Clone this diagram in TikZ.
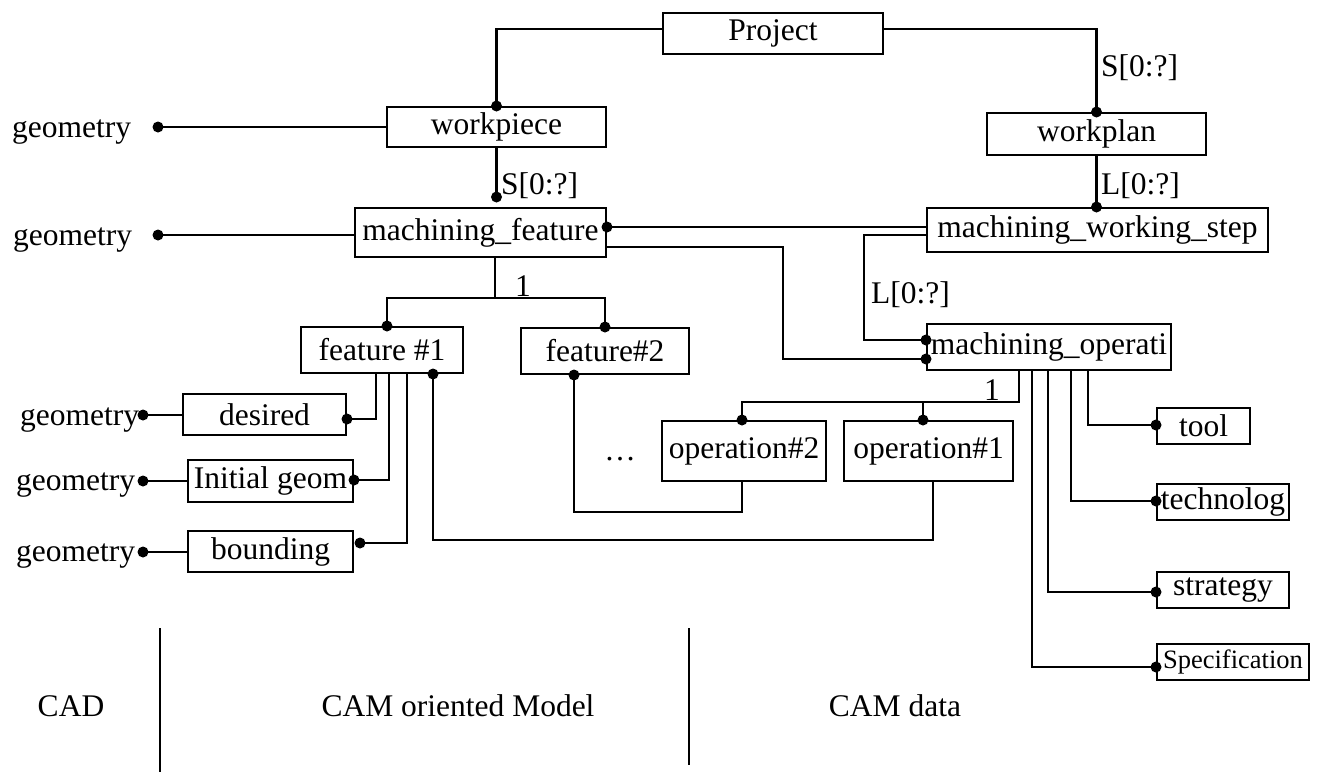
\documentclass[tikz,border=0pt]{standalone}
\usepackage{fontspec}
\setmainfont{Liberation Serif}
\newcommand\dfont{\fontsize{31.5}{36}\selectfont}
\newcommand\sfont{\fontsize{26.5}{30}\selectfont}
\begin{document}
\begin{tikzpicture}[x=1pt,y=-1pt,
  ebox/.style={draw,line width=2pt,inner sep=0pt,font=\dfont},
  conn/.style={line width=2.8pt},
  divider/.style={line width=1.4pt},
  jdot/.style={circle,fill,inner sep=0pt,minimum size=11pt},
  lbl/.style={font=\dfont,inner sep=0pt}]
\useasboundingbox (0,0) rectangle (1317,772);

% --- entity boxes ---
\node[ebox,minimum width=220pt,minimum height=41pt] (proj) at (773,33.5) {Project};
\node[ebox,minimum width=219pt,minimum height=40pt] (wp) at (496.5,127) {workpiece};
\node[ebox,minimum width=219pt,minimum height=42pt] (wpl) at (1096.5,134) {workplan};
\node[ebox,minimum width=251pt,minimum height=49pt] (mf) at (480.5,232.5) {machining\_feature};
\node[ebox,minimum width=341pt,minimum height=44pt] (mws) at (1097.5,230) {machining\_working\_step};
\node[ebox,minimum width=162pt,minimum height=46pt] (f1) at (382,350) {feature \#1};
\node[ebox,minimum width=168pt,minimum height=46pt] (f2) at (605,351) {feature\#2};
\node[ebox,minimum width=244pt,minimum height=46pt] (mop) at (1049,347) {machining\_operati};
\node[ebox,minimum width=164pt,minimum height=60pt] (op2) at (744,451) {operation\#2};
\node[ebox,minimum width=169pt,minimum height=60pt] (op1) at (928.5,451) {operation\#1};
\node[ebox,minimum width=163pt,minimum height=41pt] (des) at (264.5,414.5) {desired};
\node[ebox,minimum width=165pt,minimum height=42pt] (ini) at (270.5,481) {Initial geom};
\node[ebox,minimum width=165pt,minimum height=41pt] (bnd) at (270.5,551.5) {bounding};
\node[ebox,minimum width=93pt,minimum height=36pt] (tool) at (1203.5,426) {tool};
\node[ebox,minimum width=132pt,minimum height=36pt] (tech) at (1223,502) {technolog};
\node[ebox,minimum width=132pt,minimum height=36pt] (strat) at (1223,590) {strategy};
\node[ebox,minimum width=152pt,minimum height=36pt,font=\sfont] (spec) at (1233,662) {Specification};

% --- geometry references ---
\node[lbl,anchor=base west] (geo1) at (12,137) {geometry};
\node[lbl,anchor=base west] (geo2) at (13,245) {geometry};
\node[lbl,anchor=base west] (geo3) at (20,425) {geometry};
\node[lbl,anchor=base west] (geo4) at (16,490) {geometry};
\node[lbl,anchor=base west] (geo5) at (16,561) {geometry};
\coordinate (gd1) at (158,127);
\coordinate (gd2) at (158,235);
\coordinate (gd3) at (143,415);
\coordinate (gd4) at (143,481);
\coordinate (gd5) at (143,552);
\draw[conn] (gd1) node[jdot]{} -- (wp.west |- gd1);
\draw[conn] (gd2) node[jdot]{} -- (mf.west |- gd2);
\draw[conn] (gd3) node[jdot]{} -- (des.west |- gd3);
\draw[conn] (gd4) node[jdot]{} -- (ini.west |- gd4);
\draw[conn] (gd5) node[jdot]{} -- (bnd.west |- gd5);

% --- top level ---
\draw[conn] ([yshift=4.5pt]proj.west) -| (wp.north) node[jdot]{};
\draw[conn] ([yshift=4.5pt]proj.east) -| (wpl.north) node[jdot]{};
\node[lbl,anchor=base west] (s1) at (1101,76) {S[0:?]};

\draw[conn] (wp.south) -- (wp.south |- 0,197) node[jdot]{};
\node[lbl,anchor=base west] (s2) at (501,194) {S[0:?]};

\draw[conn] (wpl.south) -- (wpl.south |- mws.north) node[jdot]{};
\node[lbl,anchor=base west] (l1) at (1101,194) {L[0:?]};

% --- feature / working step links ---
\draw[conn] (mf.east |- 0,227) node[jdot]{} -- (mws.west |- 0,227);
\coordinate (k1) at (783,359);
\coordinate (k2) at (864,340);
\draw[conn] (mf.east |- 0,247) -| (k1) -- (mop.west |- k1) node[jdot]{};
\draw[conn] (mws.west |- 0,235) -| (k2) -- (mop.west |- k2) node[jdot]{};
\node[lbl,anchor=base west] (l2) at (871,303) {L[0:?]};

% --- feature tree ---
\coordinate (t1) at (495,298);
\draw[conn] (mf.south -| t1) -- (t1);
\draw[conn] ([xshift=5pt]f1.north) node[jdot]{} |- (t1) -| (f2.north) node[jdot]{};
\node[lbl,anchor=base] (one1) at (523,296) {1};

\draw[conn] (f1.south -| 376,0) |- (des.east |- 0,419) node[jdot]{};
\draw[conn] (f1.south -| 389,0) |- (ini.east |- 0,480) node[jdot]{};
\draw[conn] (f1.south -| 407,0) |- ([xshift=6pt]bnd.east |- 0,543) node[jdot]{};

\coordinate (b1) at (933,540);
\coordinate (b2) at (742,512);
\draw[conn] (f1.south -| 433,0) node[jdot]{} |- (b1) -- (op1.south -| b1);
\draw[conn] (f2.south -| 574,0) node[jdot]{} |- (b2) -- (op2.south -| b2);
\node[lbl,anchor=base] (dots) at (620,460) {\ldots};

% --- operation tree ---
\coordinate (m1) at (1019,402);
\draw[conn] (mop.south -| m1) -- (m1) -- (742,402) -- (op2.north -| 742,0) node[jdot]{};
\draw[conn] (923,402) -- (op1.north -| 923,0) node[jdot]{};
\node[lbl,anchor=base] (one2) at (992,400) {1};

\draw[conn] (mop.south -| 1032,0) |- (spec.west |- 0,667) node[jdot]{};
\draw[conn] (mop.south -| 1048,0) |- (strat.west |- 0,592) node[jdot]{};
\draw[conn] (mop.south -| 1071,0) |- (tech.west |- 0,501) node[jdot]{};
\draw[conn] (mop.south -| 1088,0) |- (tool.west |- 0,425) node[jdot]{};

% --- domain captions ---
\node[lbl,anchor=base] (cad) at (71,716) {CAD};
\node[lbl,anchor=base] (camm) at (458,716) {CAM oriented Model};
\node[lbl,anchor=base] (camd) at (895,716) {CAM data};
\coordinate (d1t) at (160,628);
\coordinate (d1b) at (160,772);
\coordinate (d2t) at (689,628);
\coordinate (d2b) at (689,765);
\draw[divider] (d1t) -- (d1b);
\draw[divider] (d2t) -- (d2b);
\end{tikzpicture}
\end{document}
